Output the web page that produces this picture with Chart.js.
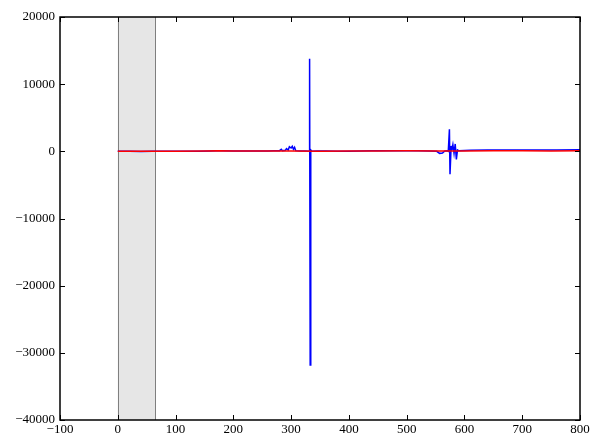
<!DOCTYPE html>
<html lang="en">
<head>
    <meta charset="UTF-8">
    <title>Signal trace</title>
    <script src="https://cdn.jsdelivr.net/npm/chart.js"></script>
    <style>
        body {
            margin: 0;
            padding: 0;
            background: white;
        }

        .wrap {
            width: 600px;
            height: 440px;
        }
    </style>
</head>
<body>
    <div class="wrap">
        <canvas id="traceChart" width="600" height="440"></canvas>
    </div>

    <script>
        // blue trace
        const blueX = [0, 20, 40, 60, 80, 100, 120, 140, 160, 170, 180, 200, 220, 240, 260, 270, 280, 283, 285, 290, 292, 295, 297, 300, 302, 304, 306, 308, 315, 325, 331, 332, 333, 334, 336, 345, 360, 380, 400, 420, 440, 460, 480, 500, 520, 540, 552, 557, 562, 566, 570, 572, 574, 575, 577, 578, 580, 582, 584, 586, 588, 590, 610, 640, 680, 720, 760, 800];
        const blueY = [0, 10, -10, 20, 0, 10, 20, 30, 60, 80, 70, 60, 50, 40, 60, 80, 100, 300, 100, 150, 400, 200, 700, 500, 750, 300, 600, 100, 50, 40, 0, 13800, -31800, 200, 0, 60, 40, 20, 30, 50, 70, 80, 90, 100, 90, 60, 0, -300, -250, 50, 100, 0, 3300, -3400, 800, 100, 1000, -300, 1100, -1200, 200, 100, 150, 180, 200, 180, 200, 220];

        // red trace
        const redX = [0, 50, 100, 150, 175, 200, 250, 300, 350, 400, 450, 500, 550, 600, 650, 700, 750, 800];
        const redY = [0, 10, 20, 50, 80, 60, 40, 50, 30, 40, 60, 90, 40, 50, 70, 80, 60, 70];

        // shaded span
        const bandStart = 0;
        const bandEnd = 65;

        const xTicks = [-100, 0, 100, 200, 300, 400, 500, 600, 700, 800];
        const yTicks = [-40000, -30000, -20000, -10000, 0, 10000, 20000];

        const toPoints = (xs, ys) => xs.map((x, i) => ({ x: x, y: ys[i] }));
        const fmt = v => String(v).replace('-', '\u2212');

        // grey span behind the traces
        const bandPlugin = {
            id: 'band',
            beforeDatasetsDraw(chart) {
                const { ctx, chartArea, scales } = chart;
                const x0 = scales.x.getPixelForValue(bandStart);
                const x1 = scales.x.getPixelForValue(bandEnd);
                ctx.save();
                ctx.fillStyle = '#e6e6e6';
                ctx.fillRect(x0, chartArea.top, x1 - x0, chartArea.bottom - chartArea.top);
                ctx.strokeStyle = '#7f7f7f';
                ctx.lineWidth = 1;
                ctx.beginPath();
                ctx.moveTo(Math.round(x0) + 0.5, chartArea.top);
                ctx.lineTo(Math.round(x0) + 0.5, chartArea.bottom);
                ctx.moveTo(Math.round(x1) + 0.5, chartArea.top);
                ctx.lineTo(Math.round(x1) + 0.5, chartArea.bottom);
                ctx.stroke();
                ctx.restore();
            }
        };

        // frame and inward ticks, matplotlib style
        const framePlugin = {
            id: 'frame',
            afterDraw(chart) {
                const { ctx, chartArea, scales } = chart;
                const { left, right, top, bottom } = chartArea;
                ctx.save();
                ctx.strokeStyle = '#000';
                ctx.lineWidth = 1;
                ctx.beginPath();
                xTicks.forEach(v => {
                    const px = Math.round(scales.x.getPixelForValue(v)) + 0.5;
                    ctx.moveTo(px, bottom);
                    ctx.lineTo(px, bottom - 5);
                    ctx.moveTo(px, top);
                    ctx.lineTo(px, top + 5);
                });
                yTicks.forEach(v => {
                    const py = Math.round(scales.y.getPixelForValue(v)) + 0.5;
                    ctx.moveTo(left, py);
                    ctx.lineTo(left + 5, py);
                    ctx.moveTo(right, py);
                    ctx.lineTo(right - 5, py);
                });
                ctx.stroke();
                ctx.lineWidth = 1.5;
                ctx.strokeRect(left, top, right - left, bottom - top);
                ctx.restore();
            }
        };

        const ctx = document.getElementById('traceChart').getContext('2d');

        new Chart(ctx, {
            type: 'line',
            data: {
                datasets: [{
                    label: 'red',
                    data: toPoints(redX, redY),
                    borderColor: '#ff0000',
                    borderWidth: 1.5,
                    pointRadius: 0,
                    order: 0,
                }, {
                    label: 'blue',
                    data: toPoints(blueX, blueY),
                    borderColor: '#0000ff',
                    borderWidth: 1.5,
                    pointRadius: 0,
                    order: 1,
                }],
            },
            options: {
                responsive: false,
                animation: false,
                layout: { padding: { top: 17, right: 20, left: 0, bottom: 0 } },
                plugins: {
                    legend: { display: false },
                    tooltip: { enabled: false },
                },
                scales: {
                    x: {
                        type: 'linear',
                        min: -100,
                        max: 800,
                        afterBuildTicks: axis => { axis.ticks = xTicks.map(v => ({ value: v })); },
                        afterFit: axis => { axis.height = 20; },
                        grid: { display: false, drawTicks: false },
                        border: { display: false },
                        ticks: {
                            color: '#000',
                            padding: 2,
                            maxRotation: 0,
                            font: { family: 'Liberation Serif', size: 13 },
                            callback: v => fmt(v),
                        },
                    },
                    y: {
                        min: -40000,
                        max: 20000,
                        afterBuildTicks: axis => { axis.ticks = yTicks.map(v => ({ value: v })); },
                        afterFit: axis => { axis.width = 60; },
                        grid: { display: false, drawTicks: false },
                        border: { display: false },
                        ticks: {
                            color: '#000',
                            padding: 5,
                            font: { family: 'Liberation Serif', size: 13 },
                            callback: v => fmt(v),
                        },
                    },
                },
            },
            plugins: [bandPlugin, framePlugin],
        });
    </script>
</body>
</html>
